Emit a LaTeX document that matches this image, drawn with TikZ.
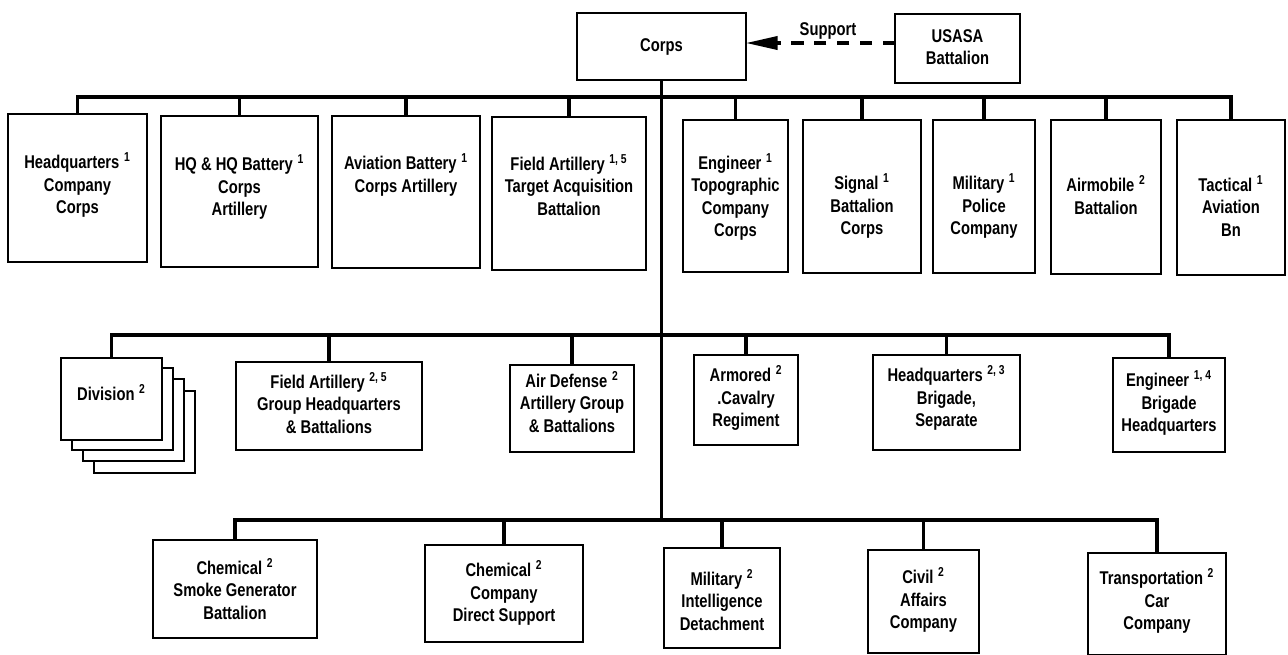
\documentclass[tikz,border=0pt]{standalone}
\usepackage{fontspec}
\setmainfont{Liberation Sans}[FakeStretch=0.8]
\usetikzlibrary{arrows.meta,calc}
\tikzset{
  unitbox/.style={draw=black, line width=1.1pt, fill=white, inner sep=0pt, outer sep=0pt},
  lbl/.style={align=center, inner sep=0pt, font=\bfseries\fontsize{10.5}{12.7}\selectfont},
  conn/.style={draw=black, line width=2.2pt, line join=miter},
  supp/.style={draw=black, line width=1.8pt, dash pattern=on 7pt off 6pt, -{Triangle[length=18pt,width=7.5pt]}},
}
\newcommand\supnum[1]{\hspace{0.25em}\textsuperscript{#1}}
\newcommand\ubox[7]{%
  \node[unitbox, minimum width={(#4-#2)*0.02cm}, minimum height={(#5-#3)*0.02cm}] (#1) at ({(#2+#4)/2},{(#3+#5)/2}) {};
  \node[lbl] (#1t) at ({(#2+#4)/2},#6) {#7};}
\begin{document}
\begin{tikzpicture}[x=0.02cm,y=-0.02cm]
\useasboundingbox[fill=white] (0,0) rectangle (1288,654);

% top
\ubox{corps}{577}{13}{746}{80}{47}{Corps}
\ubox{usasa}{895}{14}{1020}{83}{47}{USASA\\Battalion}
\coordinate (sy) at (0,43);
\draw[supp] (usasa.west |- sy) -- node[pos=0.45, above=1pt, lbl] (suppt) {Support} (corps.east |- sy);

% row 1
\ubox{b1}{8}{114}{147}{262}{185}{Headquarters\supnum{1}\\Company\\Corps}
\ubox{b2}{161}{116}{318}{267}{187}{HQ \& HQ Battery\supnum{1}\\Corps\\Artillery}
\ubox{b3}{332}{116}{480}{268}{175}{Aviation Battery\supnum{1}\\Corps Artillery}
\ubox{b4}{492}{117}{646}{270}{185}{Field Artillery\supnum{1, 5}\\Target Acquisition\\Battalion}
\ubox{b5}{683}{120}{788}{272}{197}{Engineer\supnum{1}\\Topographic\\Company\\Corps}
\ubox{b6}{803}{120}{921}{273}{206}{Signal\supnum{1}\\Battalion\\Corps}
\ubox{b7}{933}{120}{1035}{273}{206}{Military\supnum{1}\\Police\\Company}
\ubox{b8}{1051}{120}{1161}{274}{195}{Airmobile\supnum{2}\\Battalion}
\ubox{b9}{1177}{120}{1285}{275}{206}{Tactical\supnum{1}\\Aviation\\Bn}

% row 2
\foreach \dx/\dy in {33/33,22/21,11/10}
  \draw[unitbox] (61+\dx,358+\dy) rectangle (162+\dx,440+\dy);
\ubox{div}{61}{358}{162}{440}{393}{Division\supnum{2}}
\ubox{fa}{236}{362}{422}{450}{403}{Field Artillery\supnum{2, 5}\\Group Headquarters\\\& Battalions}
\ubox{ad}{510}{365}{634}{452}{402}{Air Defense\supnum{2}\\Artillery Group\\\& Battalions}
\ubox{ar}{694}{355}{798}{445}{398}{Armored\supnum{2}\\.Cavalry\\Regiment}
\ubox{hb}{873}{355}{1020}{450}{398}{Headquarters\supnum{2, 3}\\Brigade,\\Separate}
\ubox{eb}{1113}{358}{1225}{452}{403}{Engineer\supnum{1, 4}\\Brigade\\Headquarters}

% row 3
\ubox{c1}{153}{540}{317}{638}{589}{Chemical\supnum{2}\\Smoke Generator\\Battalion}
\ubox{c2}{425}{545}{583}{642}{593}{Chemical\supnum{2}\\Company\\Direct Support}
\ubox{mi}{664}{548}{780}{648}{600}{Military\supnum{2}\\Intelligence\\Detachment}
\ubox{cv}{868}{550}{979}{653}{600}{Civil\supnum{2}\\Affairs\\Company}
\ubox{tr}{1088}{553}{1226}{655}{601}{Transportation\supnum{2}\\Car\\Company}

% connectors
\coordinate (r1) at (0,97);
\coordinate (r2) at (0,335);
\coordinate (r3) at (0,520);
\draw[conn] (corps.south) -- (corps.south |- r3);
\draw[conn] (b1.north) -- (b1.north |- r1) -- (b9.north |- r1) -- (b9.north);
\foreach \n in {b2,b3,b4,b5,b6,b7,b8}
  \draw[conn] (\n.north) -- (\n.north |- r1);
\draw[conn] (div.north) -- (div.north |- r2) -- (eb.north |- r2) -- (eb.north);
\foreach \n in {fa,ad,ar,hb}
  \draw[conn] (\n.north) -- (\n.north |- r2);
\draw[conn] (c1.north) -- (c1.north |- r3) -- (tr.north |- r3) -- (tr.north);
\foreach \n in {c2,mi,cv}
  \draw[conn] (\n.north) -- (\n.north |- r3);
\end{tikzpicture}
\end{document}
